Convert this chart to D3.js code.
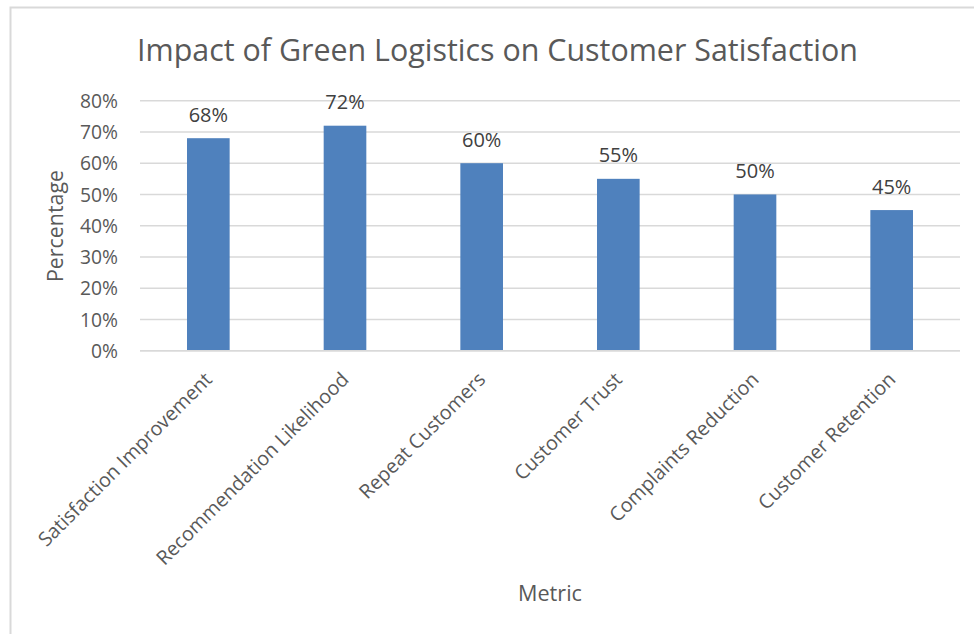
<!DOCTYPE html>
<html>
<head>
<meta charset="utf-8">
<script src="https://cdn.jsdelivr.net/npm/d3@7"></script>
<style>
  html, body { margin: 0; padding: 0; background: #ffffff; }
  svg { display: block; }
  text { font-family: "Open Sans", "Liberation Sans", sans-serif; }
</style>
</head>
<body>
<svg id="chart" width="974" height="634"></svg>
<script>
// ---- data ----
const chartTitle = "Impact of Green Logistics on Customer Satisfaction";
const xAxisTitle = "Metric";
const yAxisTitle = "Percentage";
const categories = ["Satisfaction Improvement", "Recommendation Likelihood", "Repeat Customers", "Customer Trust", "Complaints Reduction", "Customer Retention"];
const values = [68, 72, 60, 55, 50, 45];
const yTicks = [0, 10, 20, 30, 40, 50, 60, 70, 80];

// ---- layout ----
const plot = { left: 140, right: 960, top: 100.7, bottom: 350.7 };
const svg = d3.select("#chart");

// frame
svg.append("rect").attr("x", 10.5).attr("y", 7.5).attr("width", 980).attr("height", 650)
  .attr("fill", "#ffffff").attr("stroke", "#d9d9d9").attr("stroke-width", 2);

const x = d3.scaleBand().domain(categories).range([plot.left, plot.right])
  .paddingInner(0.688).paddingOuter(0.344);
const y = d3.scaleLinear().domain([0, 80]).range([plot.bottom, plot.top]);

function fit(sel, target) {
  sel.each(function() {
    const base = parseFloat(d3.select(this).attr("font-size"));
    const len = this.getComputedTextLength();
    d3.select(this).attr("font-size", (base * target / len).toFixed(2));
  });
}

// gridlines
svg.append("g").selectAll("line").data(yTicks).join("line")
  .attr("x1", plot.left).attr("x2", plot.right)
  .attr("y1", d => y(d)).attr("y2", d => y(d))
  .attr("stroke", "#d9d9d9").attr("stroke-width", 1.5);

// y axis labels via d3 axis
const yAxis = d3.axisLeft(y).tickValues(yTicks).tickFormat(d => d + "%").tickSize(0).tickPadding(0);
const gy = svg.append("g").attr("transform", `translate(118,0)`).call(yAxis);
gy.select(".domain").remove();
gy.selectAll("text").attr("font-size", 19.3).attr("fill", "#595959")
  .attr("font-family", '"Open Sans", sans-serif').attr("dy", "0.34em");

// bars
svg.append("g").selectAll("rect").data(values).join("rect")
  .attr("x", (d, i) => x(categories[i]))
  .attr("width", x.bandwidth())
  .attr("y", d => y(d))
  .attr("height", d => y(0) - y(d))
  .attr("fill", "#4f81bd");

// x axis line (bottom gridline)
svg.append("line").attr("x1", plot.left).attr("x2", plot.right)
  .attr("y1", y(0)).attr("y2", y(0)).attr("stroke", "#d9d9d9").attr("stroke-width", 1.5);

// data labels
svg.append("g").selectAll("text").data(values).join("text")
  .attr("x", (d, i) => x(categories[i]) + x.bandwidth() / 2)
  .attr("y", d => y(d) - 16.5)
  .attr("text-anchor", "middle")
  .attr("font-size", 20).attr("fill", "#404040")
  .text(d => d + "%");

// x axis category labels via d3 axis
const xAxis = d3.axisBottom(x).tickSize(0).tickPadding(0);
const gx = svg.append("g").attr("transform", `translate(0,${y(0)})`).call(xAxis);
gx.select(".domain").remove();
gx.selectAll("text")
  .attr("font-size", 19.7).attr("fill", "#595959")
  .attr("font-family", '"Open Sans", sans-serif')
  .attr("text-anchor", "end")
  .attr("dy", 0)
  .attr("y", 0)
  .attr("transform", "translate(5,30) rotate(-45)");

// title
svg.append("text").attr("x", 497.5).attr("y", 61).attr("text-anchor", "middle")
  .attr("font-size", 30).attr("fill", "#595959").text(chartTitle).call(fit, 721);

// axis titles
svg.append("text").attr("x", 550).attr("y", 600.7).attr("text-anchor", "middle")
  .attr("font-size", 21).attr("fill", "#595959").text(xAxisTitle).call(fit, 64);
svg.append("text").attr("transform", "translate(63,226) rotate(-90)").attr("text-anchor", "middle")
  .attr("font-size", 21).attr("fill", "#595959").text(yAxisTitle).call(fit, 112);
</script>
</body>
</html>
